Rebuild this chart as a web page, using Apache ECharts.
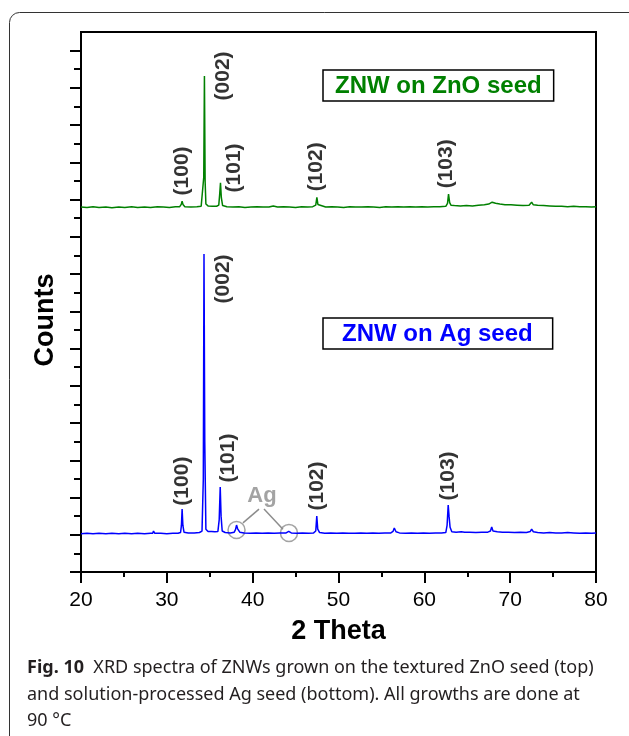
<!DOCTYPE html>
<html>
<head>
<meta charset="utf-8">
<script src="https://cdn.jsdelivr.net/npm/echarts@6/dist/echarts.min.js"></script>
<style>
  html, body { margin: 0; padding: 0; background: #fff; }
  #chart { width: 629px; height: 736px; }
</style>
</head>
<body>
<div id="chart"></div>
<script>
// XRD spectra: [2 theta, counts (arb. units)]
var zincSeedSpectrum = [
  [20, 9.80], [20.7, 9.79], [21.4, 9.81], [22.1, 9.79], [22.9, 9.80], [23.6, 9.78], [24.4, 9.80],
  [25.1, 9.79], [25.9, 9.81], [26.6, 9.79], [27.4, 9.80], [28.1, 9.79], [28.9, 9.81], [29.6, 9.80],
  [30.3, 9.79], [31.0, 9.81], [31.5, 9.81], [31.68, 9.87], [31.78, 9.96], [31.88, 9.87], [32.1, 9.81],
  [32.8, 9.80], [33.5, 9.81], [34.0, 9.82], [34.2, 9.87], [34.3, 10.6], [34.38, 13.32], [34.46, 10.5],
  [34.55, 9.88], [34.8, 9.83], [35.3, 9.82], [35.8, 9.82], [36.05, 9.85], [36.15, 10.12], [36.25, 10.45],
  [36.35, 10.05], [36.5, 9.84], [37.0, 9.81], [37.7, 9.80], [38.4, 9.81], [39.1, 9.79], [39.8, 9.80],
  [40.5, 9.81], [41.2, 9.80], [41.9, 9.80], [42.4, 9.83], [42.9, 9.80], [43.6, 9.81], [44.3, 9.80],
  [45.0, 9.79], [45.7, 9.81], [46.4, 9.80], [47.0, 9.81], [47.35, 9.85], [47.48, 10.06], [47.6, 9.87],
  [47.8, 9.82], [48.5, 9.80], [49.2, 9.81], [49.9, 9.80], [50.6, 9.79], [51.3, 9.81], [52.0, 9.80],
  [52.7, 9.80], [53.4, 9.81], [54.1, 9.80], [54.8, 9.79], [55.5, 9.81], [56.2, 9.80], [56.9, 9.81],
  [57.6, 9.80], [58.3, 9.81], [59.0, 9.80], [59.7, 9.81], [60.4, 9.80], [61.1, 9.81], [61.8, 9.81],
  [62.5, 9.82], [62.7, 9.90], [62.82, 10.15], [62.95, 9.92], [63.1, 9.85], [63.5, 9.84], [64.2, 9.83],
  [64.9, 9.84], [65.6, 9.83], [66.3, 9.85], [67.0, 9.86], [67.5, 9.88], [67.9, 9.93], [68.3, 9.90],
  [68.8, 9.88], [69.4, 9.86], [70.1, 9.86], [70.8, 9.85], [71.5, 9.84], [72.2, 9.85], [72.5, 9.93],
  [72.7, 9.86], [73.2, 9.85], [73.9, 9.84], [74.6, 9.83], [75.3, 9.82], [76.0, 9.82], [76.7, 9.81],
  [77.4, 9.82], [78.1, 9.81], [78.8, 9.81], [79.5, 9.80], [80, 9.81]
];

var silverSeedSpectrum = [
  [20, 1.03], [20.7, 1.04], [21.4, 1.03], [22.1, 1.04], [22.9, 1.03], [23.6, 1.04], [24.4, 1.03],
  [25.1, 1.04], [25.9, 1.03], [26.6, 1.04], [27.4, 1.03], [28.1, 1.04], [28.35, 1.04], [28.45, 1.10],
  [28.6, 1.04], [29.3, 1.04], [30.0, 1.03], [30.7, 1.04], [31.3, 1.04], [31.6, 1.06], [31.7, 1.25],
  [31.78, 1.69], [31.87, 1.25], [32.0, 1.07], [32.5, 1.05], [33.2, 1.05], [33.8, 1.06], [34.1, 1.10],
  [34.25, 2.5], [34.33, 8.54], [34.42, 3.5], [34.55, 1.15], [34.8, 1.09], [35.2, 1.09], [35.6, 1.08],
  [35.95, 1.09], [36.1, 1.4], [36.22, 2.28], [36.32, 1.5], [36.45, 1.10], [36.8, 1.06], [37.4, 1.05],
  [37.85, 1.07], [38.0, 1.14], [38.12, 1.26], [38.25, 1.16], [38.5, 1.07], [39.0, 1.05], [39.7, 1.04],
  [40.4, 1.05], [41.1, 1.04], [41.8, 1.05], [42.5, 1.04], [43.2, 1.05], [43.9, 1.05], [44.2, 1.09],
  [44.5, 1.05], [45.1, 1.04], [45.8, 1.05], [46.5, 1.04], [47.1, 1.05], [47.35, 1.10], [47.47, 1.50],
  [47.58, 1.15], [47.8, 1.06], [48.4, 1.04], [49.1, 1.05], [49.8, 1.04], [50.5, 1.05], [51.2, 1.04],
  [51.9, 1.04], [52.6, 1.05], [53.3, 1.04], [54.0, 1.05], [54.7, 1.04], [55.4, 1.05], [56.1, 1.05],
  [56.35, 1.09], [56.5, 1.18], [56.7, 1.08], [57.1, 1.05], [57.8, 1.04], [58.5, 1.05], [59.2, 1.04],
  [59.9, 1.05], [60.6, 1.04], [61.3, 1.05], [62.0, 1.05], [62.5, 1.06], [62.65, 1.25], [62.78, 1.80],
  [62.88, 1.50], [63.0, 1.20], [63.2, 1.08], [63.7, 1.07], [64.3, 1.08], [64.5, 1.10], [64.7, 1.07],
  [65.3, 1.07], [66.0, 1.06], [66.7, 1.07], [67.4, 1.07], [67.7, 1.10], [67.85, 1.21], [68.0, 1.10],
  [68.5, 1.08], [69.1, 1.07], [69.8, 1.07], [70.5, 1.06], [71.2, 1.07], [71.9, 1.06], [72.35, 1.09],
  [72.5, 1.15], [72.7, 1.08], [73.2, 1.06], [73.9, 1.05], [74.6, 1.06], [75.3, 1.05], [76.0, 1.05],
  [76.7, 1.06], [77.4, 1.05], [78.1, 1.04], [78.8, 1.05], [79.5, 1.04], [80, 1.05]
];

// peak indices [x, y, text] placed next to each reflection
var zincSeedPeaks = [
  [31.77, 10.77, '(100)'], [36.54, 13.32, '(002)'], [37.83, 10.85, '(101)'],
  [47.45, 10.88, '(102)'], [62.6, 10.96, '(103)']
];
var silverSeedPeaks = [
  [31.77, 2.44, '(100)'], [36.54, 7.87, '(002)'], [37.13, 3.06, '(101)'],
  [47.55, 2.31, '(102)'], [62.76, 2.58, '(103)']
];

// Ag reflections, circled, with the label they point to
var agCircles = [[38.12, 1.13], [44.23, 1.05]];
var agLabel = [[41.09, 2.04, 'Ag']];
var agPointers = [
  [[40.74, 1.69], [38.87, 1.32]],
  [[41.32, 1.69], [43.53, 1.15]]
];

var yMajorTicks = [0, 1, 2, 3, 4, 5, 6, 7, 8, 9, 10, 11, 12, 13, 14];
var yMinorTicks = [0.5, 1.5, 2.5, 3.5, 4.5, 5.5, 6.5, 7.5, 8.5, 9.5, 10.5, 11.5, 12.5, 13.5];

var seriesNames = ['ZNW on ZnO seed', 'ZNW on Ag seed'];
var caption = '{b|Fig. 10}  XRD spectra of ZNWs grown on the textured ZnO seed (top)\n' +
  'and solution-processed Ag seed (bottom). All growths are done at\n' +
  '90 °C';

var GREEN = '#008000';
var BLUE = '#0000ff';
var GREY = '#8c8c8c';
var FONT = 'Liberation Sans, Arial, sans-serif';

var myChart = echarts.init(document.getElementById('chart'), null, { renderer: 'canvas' });

function legendBox(name, color, top, padding) {
  return {
    data: [name],
    left: 323,
    top: top,
    icon: 'none',
    itemWidth: 0,
    itemHeight: 14,
    selectedMode: false,
    padding: padding,
    borderColor: '#000',
    borderWidth: 1.5,
    textStyle: { color: color, fontSize: 24, fontWeight: 'bold', fontFamily: FONT }
  };
}

var option = {
  animation: false,
  backgroundColor: '#fff',
  title: {
    text: caption,
    left: 27,
    top: 655,
    padding: 0,
    textStyle: {
      fontFamily: 'Noto Sans', fontSize: 18, fontWeight: 'normal', color: '#231f20', lineHeight: 26.5,
      rich: {
        b: { fontFamily: 'Noto Sans', fontSize: 18, fontWeight: 'bold', color: '#231f20', lineHeight: 26.5 }
      }
    }
  },
  graphic: [{
    type: 'rect',
    silent: true,
    z: -10,
    shape: { x: 9.5, y: 12.5, width: 700, height: 800, r: 10 },
    style: { fill: 'none', stroke: '#333', lineWidth: 1 }
  }],
  legend: [
    legendBox(seriesNames[0], GREEN, 70, [4, 12, 3, 7]),
    legendBox(seriesNames[1], BLUE, 318, [4, 20, 3, 14])
  ],
  grid: {
    left: 81, top: 32, width: 515, height: 540,
    show: true, borderColor: '#000', borderWidth: 2, backgroundColor: 'transparent'
  },
  xAxis: {
    type: 'value',
    min: 20, max: 80, interval: 10,
    axisLine: { show: true, lineStyle: { color: '#000', width: 2 } },
    axisTick: { show: true, length: 11, lineStyle: { color: '#000', width: 2 } },
    minorTick: { show: true, splitNumber: 2, length: 5, lineStyle: { color: '#000', width: 2 } },
    axisLabel: { fontSize: 21, color: '#000', margin: 18, fontFamily: FONT },
    splitLine: { show: false },
    name: '2 Theta',
    nameLocation: 'middle',
    nameGap: 46,
    nameTextStyle: { fontSize: 27, fontWeight: 'bold', color: '#000', fontFamily: FONT }
  },
  yAxis: [{
    type: 'value',
    position: 'left',
    min: 0, max: 14.5,
    axisLine: { show: true, lineStyle: { color: '#000', width: 2 } },
    axisTick: { show: true, length: 11, customValues: yMajorTicks, lineStyle: { color: '#000', width: 2 } },
    axisLabel: { show: false },
    splitLine: { show: false },
    name: 'Counts',
    nameLocation: 'middle',
    nameGap: 22,
    nameTextStyle: { fontSize: 27, fontWeight: 'bold', color: '#000', fontFamily: FONT, padding: [0, 36, 0, 0] }
  }, {
    type: 'value',
    position: 'left',
    min: 0, max: 14.5,
    axisLine: { show: false },
    axisTick: { show: true, length: 7, customValues: yMinorTicks, lineStyle: { color: '#000', width: 2 } },
    axisLabel: { show: false },
    splitLine: { show: false }
  }],
  series: [{
    name: seriesNames[0],
    type: 'line',
    data: zincSeedSpectrum,
    showSymbol: false,
    symbol: 'none',
    itemStyle: { color: GREEN },
    lineStyle: { color: GREEN, width: 1.5 },
    silent: true
  }, {
    name: seriesNames[1],
    type: 'line',
    data: silverSeedSpectrum,
    showSymbol: false,
    symbol: 'none',
    itemStyle: { color: BLUE },
    lineStyle: { color: BLUE, width: 1.5 },
    silent: true
  }, {
    name: 'peaks',
    type: 'scatter',
    data: zincSeedPeaks.concat(silverSeedPeaks),
    symbolSize: 1,
    itemStyle: { color: 'transparent' },
    silent: true,
    label: {
      show: true,
      position: 'inside',
      rotate: 90,
      formatter: function (p) { return p.value[2]; },
      fontSize: 21, fontWeight: 'bold', color: '#000', fontFamily: FONT
    }
  }, {
    name: 'Ag',
    type: 'scatter',
    data: agLabel,
    symbolSize: 1,
    itemStyle: { color: 'transparent' },
    silent: true,
    label: {
      show: true,
      position: 'inside',
      formatter: function (p) { return p.value[2]; },
      fontSize: 22, fontWeight: 'bold', color: GREY, fontFamily: FONT
    },
    markLine: {
      silent: true,
      symbol: ['none', 'none'],
      label: { show: false },
      lineStyle: { color: GREY, width: 1.5, type: 'solid' },
      data: agPointers.map(function (seg) {
        return [{ coord: seg[0] }, { coord: seg[1] }];
      })
    }
  }, {
    name: 'Ag circles',
    type: 'scatter',
    data: agCircles,
    symbol: 'circle',
    symbolSize: 17,
    silent: true,
    itemStyle: { color: 'transparent', borderColor: GREY, borderWidth: 1.5 }
  }]
};

myChart.setOption(option);
</script>
</body>
</html>
